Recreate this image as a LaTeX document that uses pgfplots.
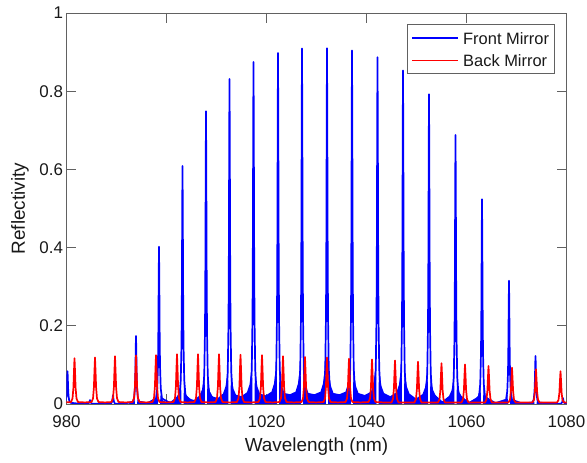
\documentclass[border=0pt]{standalone}
\usepackage{pgfplots}
\pgfplotsset{compat=1.18}
\usepackage{fontspec}
\setmainfont{Liberation Sans}
\definecolor{axgray}{rgb}{0.38,0.38,0.38}
\definecolor{bmred}{rgb}{1,0,0}
\definecolor{fmblue}{rgb}{0,0,1}
\begin{document}
\begin{tikzpicture}
\begin{axis}[
  name=main,
  scale only axis,
  width=500bp, height=391bp,
  xmin=980, xmax=1080, ymin=0, ymax=1,
  xtick={980,1000,1020,1040,1060,1080},
  ytick={0,0.2,0.4,0.6,0.8,1},
  /pgf/number format/assume math mode=true,
  /pgf/number format/set thousands separator={},
  tick align=inside,
  major tick length=10bp,
  axis line style={axgray, line width=0.7bp},
  every tick/.style={axgray, line width=0.7bp},
  tick label style={font=\fontsize{17}{20}\selectfont, text=black!90},
  xticklabel style={yshift=-8bp},
  xlabel={Wavelength (nm)},
  ylabel={Reflectivity},
  label style={font=\fontsize{19}{22}\selectfont, text=black!90},
  x label style={at={(axis description cs:0.5,-0.11)}, anchor=center},
  y label style={at={(axis description cs:-0.093,0.5)}, anchor=center},
]
% Front mirror: dense sidelobe fill (envelope)
\addplot[fill=fmblue, draw=none, forget plot] coordinates {
(992.5,0)
(992.6,0.0032)(993.1,0.0053)(993.4,0.0084)(993.6,0.014)(993.7,0)(994.1,0)(994.2,0.011)(994.4,0.007)(994.7,0.0046)(995.2,0.0028)
(996.2,0.002)
(997.2,0.0063)(997.7,0.0105)(998.0,0.0168)(998.2,0.028)(998.3,0)(998.7,0)(998.8,0.0224)(999.0,0.014)(999.3,0.0091)(999.8,0.006)
(1000.85,0.006)
(1001.9,0.0158)(1002.4,0.0263)(1002.7,0.042)(1002.9,0.07)(1003.0,0)(1003.4,0)(1003.5,0.056)(1003.7,0.035)(1004.0,0.0228)(1004.5,0.014)
(1005.55,0.01)
(1006.6,0.022)(1007.1,0.0368)(1007.4,0.0588)(1007.6,0.098)(1007.7,0)(1008.1,0)(1008.2,0.078)(1008.4,0.049)(1008.7,0.0319)(1009.2,0.0196)
(1010.25,0.015)
(1011.3,0.0266)(1011.8,0.0448)(1012.1,0.0714)(1012.3,0.119)(1012.4,0)(1012.8,0)(1012.9,0.095)(1013.1,0.0595)(1013.4,0.0385)(1013.9,0.0238)
(1015.0,0.02)
(1016.1,0.0301)(1016.6,0.0497)(1016.9,0.0798)(1017.1,0.133)(1017.2,0)(1017.6,0)(1017.7,0.106)(1017.9,0.0665)(1018.2,0.0434)(1018.7,0.0266)
(1019.85,0.022)
(1021.0,0.0315)(1021.5,0.0525)(1021.8,0.084)(1022.0,0.14)(1022.1,0)(1022.5,0)(1022.6,0.112)(1022.8,0.07)(1023.1,0.0455)(1023.6,0.028)
(1024.7,0.025)
(1025.8,0.0315)(1026.3,0.0525)(1026.6,0.084)(1026.8,0.14)(1026.9,0)(1027.3,0)(1027.4,0.112)(1027.6,0.07)(1027.9,0.0455)(1028.4,0.028)
(1029.6,0.025)
(1030.8,0.0315)(1031.3,0.0525)(1031.6,0.084)(1031.8,0.14)(1031.9,0)(1032.3,0)(1032.4,0.112)(1032.6,0.07)(1032.9,0.0455)(1033.4,0.028)
(1034.6,0.025)
(1035.8,0.0315)(1036.3,0.0525)(1036.6,0.084)(1036.8,0.14)(1036.9,0)(1037.3,0)(1037.4,0.112)(1037.6,0.07)(1037.9,0.0455)(1038.4,0.028)
(1039.65,0.023)
(1040.9,0.0315)(1041.4,0.0525)(1041.7,0.084)(1041.9,0.14)(1042.0,0)(1042.4,0)(1042.5,0.112)(1042.7,0.07)(1043.0,0.0455)(1043.5,0.028)
(1044.75,0.02)
(1046.0,0.0301)(1046.5,0.0497)(1046.8,0.0798)(1047.0,0.133)(1047.1,0)(1047.5,0)(1047.6,0.106)(1047.8,0.0665)(1048.1,0.0434)(1048.6,0.0266)
(1049.9,0.014)
(1051.2,0.0252)(1051.7,0.042)(1052.0,0.0672)(1052.2,0.112)(1052.3,0)(1052.7,0)(1052.8,0.0896)(1053.0,0.056)(1053.3,0.0364)(1053.8,0.0224)
(1055.15,0.007)
(1056.5,0.0203)(1057.0,0.0343)(1057.3,0.0546)(1057.5,0.091)(1057.6,0)(1058.0,0)(1058.1,0.0728)(1058.3,0.0455)(1058.6,0.0294)(1059.1,0.0182)
(1060.45,0.005)
(1061.8,0.0126)(1062.3,0.021)(1062.6,0.0336)(1062.8,0.056)(1062.9,0)(1063.3,0)(1063.4,0.0448)(1063.6,0.028)(1063.9,0.0182)(1064.4,0.0112)
(1065.8,0.003)
(1067.2,0.0056)(1067.7,0.0095)(1068.0,0.0154)(1068.2,0.025)(1068.3,0)(1068.7,0)(1068.8,0.0203)(1069.0,0.0126)(1069.3,0.0084)(1069.8,0.0049)
(1071.15,0.001)
(1072.5,0.0025)(1073.0,0.0042)(1073.3,0.0067)(1073.5,0.0112)(1073.6,0)(1074.0,0)(1074.1,0.0091)(1074.3,0.0056)(1074.6,0.0035)(1075.1,0.0021)
(1076,0)
} \closedcycle;
% Front mirror: main peaks
\addplot[fmblue, line width=1.7bp, line join=round, forget plot] coordinates {
(979.6,0.003)(979.85,0.0084)(980.0,0.021)(980.085,0.042)(980.14,0.067)(980.2,0.084)(980.26,0.067)(980.315,0.042)(980.4,0.021)(980.55,0.0084)(980.8,0.003)
(982.5,0.001)
(984.3,0.001)(984.5,0.003)(984.6,0.006)(984.7,0.01)(984.8,0.006)(984.9,0.003)(985.1,0.001)
(987,0.001)
(988.9,0.001)(989.1,0.0055)(989.185,0.011)(989.3,0.022)(989.415,0.011)(989.5,0.0055)(989.7,0.001)
(991.6,0.001)
(993.3,0.006)(993.55,0.0174)(993.7,0.0435)(993.785,0.087)(993.84,0.139)(993.9,0.174)(993.96,0.139)(994.015,0.087)(994.1,0.0435)(994.25,0.0174)(994.5,0.006)
(996.2,0.002)
(997.9,0.014)(998.15,0.040)(998.3,0.1)(998.385,0.201)(998.44,0.322)(998.5,0.402)(998.56,0.322)(998.615,0.201)(998.7,0.1)(998.85,0.04)(999.1,0.014)
(1000.85,0.002)
(1002.6,0.021)(1002.85,0.061)(1003.0,0.152)(1003.085,0.305)(1003.14,0.487)(1003.2,0.609)(1003.26,0.487)(1003.315,0.305)(1003.4,0.152)(1003.55,0.061)(1003.8,0.021)
(1005.55,0.002)
(1007.3,0.026)(1007.55,0.075)(1007.7,0.187)(1007.785,0.375)(1007.84,0.599)(1007.9,0.749)(1007.96,0.599)(1008.015,0.375)(1008.1,0.187)(1008.25,0.075)(1008.5,0.026)
(1010.25,0.002)
(1012.0,0.029)(1012.25,0.083)(1012.4,0.208)(1012.485,0.416)(1012.54,0.665)(1012.6,0.831)(1012.66,0.665)(1012.715,0.416)(1012.8,0.208)(1012.95,0.083)(1013.2,0.029)
(1015,0.002)
(1016.8,0.031)(1017.05,0.088)(1017.2,0.219)(1017.285,0.438)(1017.34,0.7)(1017.4,0.875)(1017.46,0.7)(1017.515,0.438)(1017.6,0.219)(1017.75,0.088)(1018.0,0.031)
(1019.85,0.002)
(1021.7,0.031)(1021.95,0.09)(1022.1,0.225)(1022.185,0.449)(1022.24,0.718)(1022.3,0.898)(1022.36,0.718)(1022.415,0.449)(1022.5,0.225)(1022.65,0.09)(1022.9,0.031)
(1024.7,0.002)
(1026.5,0.032)(1026.75,0.091)(1026.9,0.227)(1026.985,0.455)(1027.04,0.727)(1027.1,0.909)(1027.16,0.727)(1027.215,0.455)(1027.3,0.227)(1027.45,0.091)(1027.7,0.032)
(1029.6,0.002)
(1031.5,0.032)(1031.75,0.091)(1031.9,0.228)(1031.985,0.455)(1032.04,0.728)(1032.1,0.910)(1032.16,0.728)(1032.215,0.455)(1032.3,0.228)(1032.45,0.091)(1032.7,0.032)
(1034.6,0.002)
(1036.5,0.032)(1036.75,0.09)(1036.9,0.226)(1036.985,0.452)(1037.04,0.723)(1037.1,0.904)(1037.16,0.723)(1037.215,0.452)(1037.3,0.226)(1037.45,0.09)(1037.7,0.032)
(1039.65,0.002)
(1041.6,0.031)(1041.85,0.089)(1042.0,0.222)(1042.085,0.444)(1042.14,0.71)(1042.2,0.887)(1042.26,0.71)(1042.315,0.444)(1042.4,0.222)(1042.55,0.089)(1042.8,0.031)
(1044.75,0.002)
(1046.7,0.03)(1046.95,0.085)(1047.1,0.213)(1047.185,0.427)(1047.24,0.682)(1047.3,0.853)(1047.36,0.682)(1047.415,0.427)(1047.5,0.213)(1047.65,0.085)(1047.9,0.03)
(1049.9,0.002)
(1051.9,0.028)(1052.15,0.079)(1052.3,0.198)(1052.385,0.396)(1052.44,0.634)(1052.5,0.792)(1052.56,0.634)(1052.615,0.396)(1052.7,0.198)(1052.85,0.079)(1053.1,0.028)
(1055.15,0.002)
(1057.2,0.024)(1057.45,0.069)(1057.6,0.172)(1057.685,0.344)(1057.74,0.55)(1057.8,0.688)(1057.86,0.55)(1057.915,0.344)(1058.0,0.172)(1058.15,0.069)(1058.4,0.024)
(1060.45,0.002)
(1062.5,0.018)(1062.75,0.052)(1062.9,0.131)(1062.985,0.262)(1063.04,0.419)(1063.1,0.524)(1063.16,0.419)(1063.215,0.262)(1063.3,0.131)(1063.45,0.052)(1063.7,0.018)
(1065.8,0.002)
(1067.9,0.011)(1068.15,0.032)(1068.3,0.079)(1068.385,0.158)(1068.44,0.252)(1068.5,0.315)(1068.56,0.252)(1068.615,0.158)(1068.7,0.079)(1068.85,0.032)(1069.1,0.011)
(1071.15,0.001)
(1073.2,0.004)(1073.45,0.012)(1073.6,0.031)(1073.685,0.062)(1073.74,0.098)(1073.8,0.123)(1073.86,0.098)(1073.915,0.062)(1074.0,0.031)(1074.15,0.012)(1074.4,0.004)
(1076.5,0.001)
(1078.9,0.001)(1079.1,0.004)(1079.2,0.0075)(1079.3,0.015)(1079.4,0.0075)(1079.5,0.004)(1079.7,0.001)(1080.2,0.0)
};
% Back mirror
\addplot[bmred, line width=1.7bp, line join=round, forget plot] coordinates {
(979.8,0.004)
(980.9,0.005)(981.2,0.014)(981.38,0.041)(981.49,0.082)(981.6,0.117)(981.71,0.082)(981.82,0.041)(982.0,0.014)(982.3,0.005)
(983.65,0.004)
(985.0,0.005)(985.3,0.014)(985.48,0.042)(985.59,0.083)(985.7,0.119)(985.81,0.083)(985.92,0.042)(986.1,0.014)(986.4,0.005)
(987.7,0.004)
(989.0,0.005)(989.3,0.015)(989.48,0.043)(989.59,0.085)(989.7,0.122)(989.81,0.085)(989.92,0.043)(990.1,0.015)(990.4,0.005)
(991.8,0.004)
(993.2,0.005)(993.5,0.015)(993.68,0.043)(993.79,0.087)(993.9,0.124)(994.01,0.087)(994.12,0.043)(994.3,0.015)(994.6,0.005)
(995.9,0.004)
(997.2,0.005)(997.5,0.015)(997.68,0.044)(997.79,0.088)(997.9,0.125)(998.01,0.088)(998.12,0.044)(998.3,0.015)(998.6,0.005)
(1000.0,0.004)
(1001.4,0.005)(1001.7,0.015)(1001.88,0.044)(1001.99,0.089)(1002.1,0.127)(1002.21,0.089)(1002.32,0.044)(1002.5,0.015)(1002.8,0.005)
(1004.2,0.004)
(1005.6,0.005)(1005.9,0.015)(1006.08,0.044)(1006.19,0.089)(1006.3,0.127)(1006.41,0.089)(1006.52,0.044)(1006.7,0.015)(1007.0,0.005)
(1008.4,0.004)
(1009.8,0.005)(1010.1,0.015)(1010.28,0.044)(1010.39,0.089)(1010.5,0.127)(1010.61,0.089)(1010.72,0.044)(1010.9,0.015)(1011.2,0.005)
(1012.65,0.004)
(1014.1,0.005)(1014.4,0.015)(1014.58,0.044)(1014.69,0.088)(1014.8,0.126)(1014.91,0.088)(1015.02,0.044)(1015.2,0.015)(1015.5,0.005)
(1016.95,0.004)
(1018.4,0.005)(1018.7,0.015)(1018.88,0.044)(1018.99,0.088)(1019.1,0.125)(1019.21,0.088)(1019.32,0.044)(1019.5,0.015)(1019.8,0.005)
(1021.2,0.004)
(1022.6,0.005)(1022.9,0.015)(1023.08,0.043)(1023.19,0.085)(1023.3,0.122)(1023.41,0.085)(1023.52,0.043)(1023.7,0.015)(1024.0,0.005)
(1025.5,0.004)
(1027.0,0.005)(1027.3,0.014)(1027.48,0.042)(1027.59,0.084)(1027.7,0.120)(1027.81,0.084)(1027.92,0.042)(1028.1,0.014)(1028.4,0.005)
(1029.9,0.004)
(1031.4,0.005)(1031.7,0.014)(1031.88,0.042)(1031.99,0.083)(1032.1,0.119)(1032.21,0.083)(1032.32,0.042)(1032.5,0.014)(1032.8,0.005)
(1034.3,0.004)
(1035.8,0.005)(1036.1,0.014)(1036.28,0.041)(1036.39,0.081)(1036.5,0.116)(1036.61,0.081)(1036.72,0.041)(1036.9,0.014)(1037.2,0.005)
(1038.8,0.004)
(1040.4,0.005)(1040.7,0.014)(1040.88,0.040)(1040.99,0.080)(1041.1,0.114)(1041.21,0.080)(1041.32,0.040)(1041.5,0.014)(1041.8,0.005)
(1043.4,0.004)
(1045.0,0.004)(1045.3,0.013)(1045.48,0.039)(1045.59,0.078)(1045.7,0.111)(1045.81,0.078)(1045.92,0.039)(1046.1,0.013)(1046.4,0.004)
(1048.0,0.004)
(1049.6,0.004)(1049.9,0.013)(1050.08,0.038)(1050.19,0.076)(1050.3,0.108)(1050.41,0.076)(1050.52,0.038)(1050.7,0.013)(1051.0,0.004)
(1052.65,0.004)
(1054.3,0.004)(1054.6,0.012)(1054.78,0.036)(1054.89,0.073)(1055.0,0.104)(1055.11,0.073)(1055.22,0.036)(1055.4,0.012)(1055.7,0.004)
(1057.35,0.004)
(1059.0,0.004)(1059.3,0.012)(1059.48,0.035)(1059.59,0.071)(1059.7,0.101)(1059.81,0.071)(1059.92,0.035)(1060.1,0.012)(1060.4,0.004)
(1062.05,0.004)
(1063.7,0.004)(1064.0,0.012)(1064.18,0.034)(1064.29,0.068)(1064.4,0.097)(1064.51,0.068)(1064.62,0.034)(1064.8,0.012)(1065.1,0.004)
(1066.75,0.004)
(1068.4,0.004)(1068.7,0.011)(1068.88,0.033)(1068.99,0.065)(1069.1,0.093)(1069.21,0.065)(1069.32,0.033)(1069.5,0.011)(1069.8,0.004)
(1071.5,0.004)
(1073.2,0.004)(1073.5,0.011)(1073.68,0.031)(1073.79,0.062)(1073.9,0.089)(1074.01,0.062)(1074.12,0.031)(1074.3,0.011)(1074.6,0.004)
(1076.35,0.004)
(1078.1,0.004)(1078.4,0.010)(1078.58,0.029)(1078.69,0.059)(1078.8,0.084)(1078.91,0.059)(1079.02,0.029)(1079.2,0.010)(1079.5,0.004)
(1080.2,0.004)
};
\end{axis}
% legend
\draw[axgray, line width=0.7bp, fill=white]
  ([shift={(-158.8bp,-11bp)}]main.north east) rectangle ([shift={(-12.5bp,-60bp)}]main.north east);
\draw[fmblue, line width=1.7bp] ([shift={(-154.5bp,-25.3bp)}]main.north east) -- ([shift={(-108.8bp,-25.3bp)}]main.north east);
\draw[bmred, line width=1.7bp] ([shift={(-154.5bp,-47.5bp)}]main.north east) -- ([shift={(-108.8bp,-47.5bp)}]main.north east);
\node[anchor=west, inner sep=0pt, font=\fontsize{16.5}{19}\selectfont, text=black!90] at ([shift={(-103.5bp,-25.3bp)}]main.north east) {Front Mirror};
\node[anchor=west, inner sep=0pt, font=\fontsize{16.5}{19}\selectfont, text=black!90] at ([shift={(-103.5bp,-47.5bp)}]main.north east) {Back Mirror};
\pgfresetboundingbox
\path ([shift={(-66.5bp,-59bp)}]main.south west) rectangle ([shift={(20.5bp,13bp)}]main.north east);
\end{tikzpicture}
\end{document}
